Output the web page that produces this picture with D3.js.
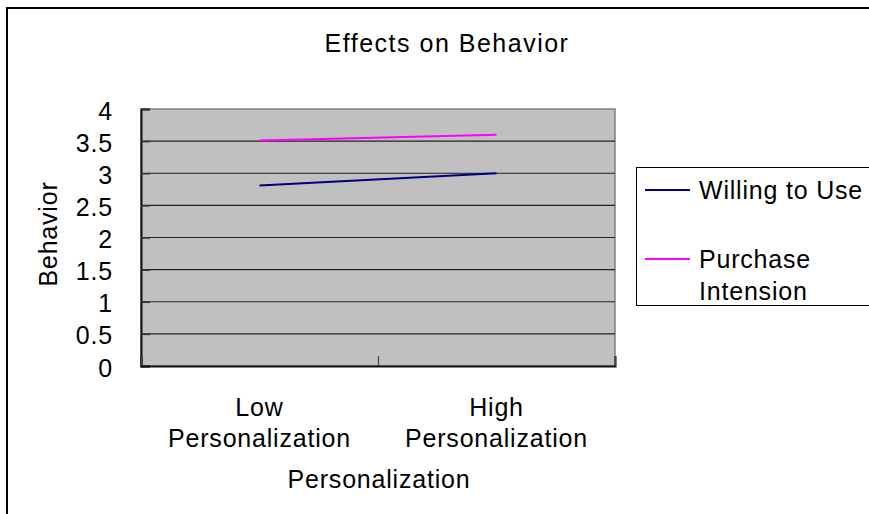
<!DOCTYPE html>
<html><head><meta charset="utf-8">
<script src="https://cdn.jsdelivr.net/npm/d3@7"></script>
<style>
body{margin:0;background:#fff;}
text{font-family:"Liberation Sans",Arial,sans-serif;fill:#000;}
</style></head><body>
<svg id="c" width="869" height="514"></svg>
<script>
const categories = [["Low","Personalization"],["High","Personalization"]];
const seriesNames = ["Willing to Use","Purchase Intension"];
const willingToUse = [2.81, 3.0];
const purchaseIntension = [3.51, 3.6];
const yTicks = [0,0.5,1,1.5,2,2.5,3,3.5,4];
const colors = ["#000080","#ff00ff"];

const svg = d3.select("#c");
const fs = 25, ls = 0.8;
// outer frame
svg.append("rect").attr("x",7).attr("y",8).attr("width",900).attr("height",600)
  .attr("fill","#fff").attr("stroke","#000").attr("stroke-width",2);

const L=141,R=615,T=109,B=366;
const x = d3.scaleBand().domain(categories.map((d,i)=>i)).range([L,R]);
const y = d3.scaleLinear().domain([0,4]).range([B,T]);

svg.append("rect").attr("x",L).attr("y",T).attr("width",R-L).attr("height",B-T)
  .attr("fill","#c0c0c0").attr("stroke","#808080").attr("stroke-width",1.5);

// gridlines
svg.append("g").selectAll("line").data(yTicks.filter(d=>d>0&&d<4)).join("line")
  .attr("x1",L).attr("x2",R).attr("y1",d=>y(d)).attr("y2",d=>y(d))
  .attr("stroke","#222").attr("stroke-width",1.2);

// y axis
const ya = svg.append("g").attr("transform",`translate(${L},0)`)
  .call(d3.axisRight(y).tickValues(yTicks).tickSize(9).tickFormat(""));
ya.select(".domain").attr("stroke","#111").attr("stroke-width",2);
ya.selectAll(".tick line").attr("stroke","#333").attr("stroke-width",1.5);
svg.append("g").selectAll("text").data(yTicks).join("text")
  .attr("x",113).attr("y",d=>y(d)).attr("dy","0.42em").attr("text-anchor","end")
  .attr("font-size",fs).attr("letter-spacing",ls).text(d=>d);

// x axis
const xa = svg.append("g").attr("transform",`translate(0,${B})`)
  .call(d3.axisTop(d3.scaleLinear().domain([0,2]).range([L,R])).tickValues([0,1,2]).tickSize(10).tickFormat(""));
xa.select(".domain").attr("stroke","#111").attr("stroke-width",2);
xa.selectAll(".tick line").attr("stroke","#444").attr("stroke-width",1.2);

// category labels
categories.forEach((c,i)=>{
  const t = svg.append("text").attr("x",x(i)+x.bandwidth()/2).attr("y",416)
    .attr("text-anchor","middle").attr("font-size",fs).attr("letter-spacing",ls);
  c.forEach((s,j)=>t.append("tspan").attr("x",x(i)+x.bandwidth()/2).attr("y",416+j*31).text(s));
});

// lines
const line = d3.line().x((d,i)=>x(i)+x.bandwidth()/2).y(d=>y(d));
[willingToUse,purchaseIntension].forEach((s,k)=>{
  svg.append("path").attr("d",line(s)).attr("fill","none").attr("stroke",colors[k]).attr("stroke-width",2);
});

// titles
svg.append("text").attr("x",447).attr("y",52).attr("text-anchor","middle")
  .attr("font-size",fs).attr("letter-spacing",1.5).text("Effects on Behavior");
svg.append("text").attr("x",379).attr("y",488).attr("text-anchor","middle")
  .attr("font-size",fs).attr("letter-spacing",ls).text("Personalization");
svg.append("text").attr("transform","translate(57,234) rotate(-90)").attr("text-anchor","middle")
  .attr("font-size",fs).attr("letter-spacing",ls).text("Behavior");

// legend
const lg = svg.append("g");
lg.append("rect").attr("x",636.5).attr("y",167.5).attr("width",300).attr("height",138)
  .attr("fill","#fff").attr("stroke","#000").attr("stroke-width",1);
const legY=[190,259];
seriesNames.forEach((n,k)=>{
  lg.append("line").attr("x1",645).attr("x2",690).attr("y1",legY[k]).attr("y2",legY[k])
    .attr("stroke",colors[k]).attr("stroke-width",2);
  const t = lg.append("text").attr("x",699).attr("y",legY[k]+9).attr("font-size",fs).attr("letter-spacing",ls);
  const words = k===1 ? ["Purchase","Intension"] : [n];
  words.forEach((w,j)=>t.append("tspan").attr("x",699).attr("y",legY[k]+9+j*32).text(w));
});
</script>
</body></html>
